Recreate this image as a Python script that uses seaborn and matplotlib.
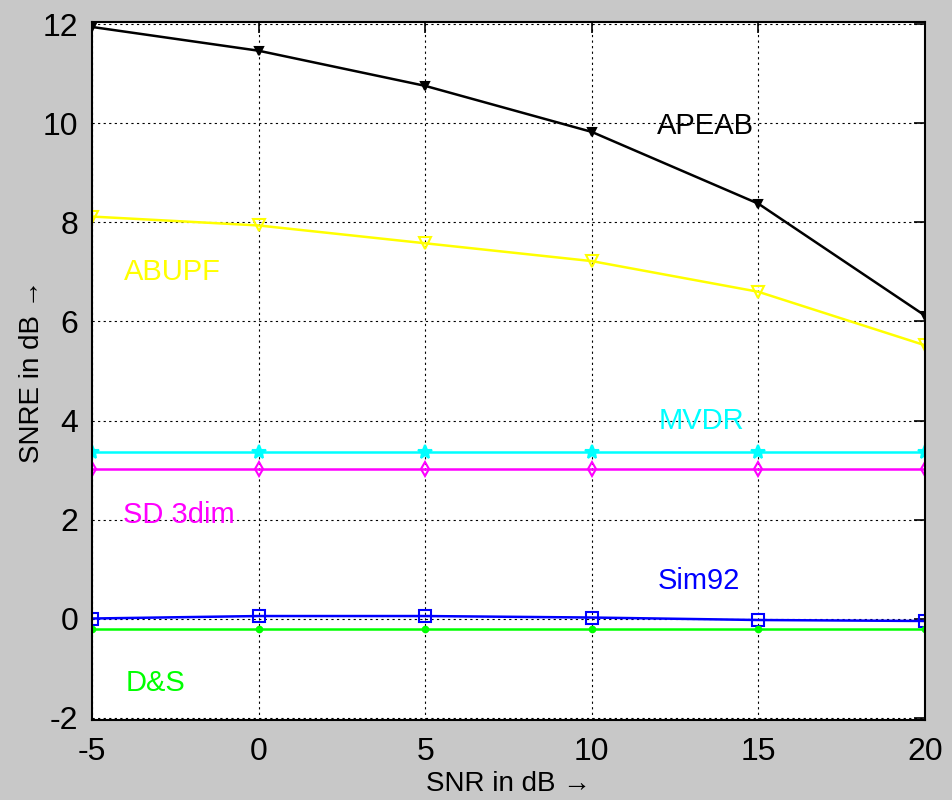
import matplotlib
matplotlib.use("Agg")
import pandas as pd
import seaborn as sns
from matplotlib import pyplot as plt

snr = [-5, 0, 5, 10, 15, 20]

apeab = [11.95, 11.47, 10.76, 9.83, 8.38, 6.12]
abupf = [8.12, 7.94, 7.58, 7.22, 6.60, 5.52]
mvdr = [3.37, 3.37, 3.37, 3.37, 3.37, 3.37]
sd_3dim = [3.02, 3.02, 3.02, 3.02, 3.02, 3.02]
sim92 = [0.0, 0.05, 0.05, 0.02, -0.03, -0.05]
ds = [-0.22, -0.22, -0.22, -0.22, -0.22, -0.22]

methods = ['APEAB', 'ABUPF', 'MVDR', 'SD 3dim', 'Sim92', 'D&S']
colors = ['#000000', '#ffff00', '#00ffff', '#ff00ff', '#0000ff', '#00ff00']
markers = ['v', 'v', '*', 'd', 's', '.']
# where the name of each curve is written (data coords)
label_pos = [(13.4, 9.95), (-2.6, 7.0), (13.3, 4.0), (-2.4, 2.1), (13.2, 0.75), (-3.1, -1.3)]

df = pd.DataFrame({'snr': snr * 6,
                   'snre': apeab + abupf + mvdr + sd_3dim + sim92 + ds,
                   'method': [m for m in methods for _ in snr]})

sns.set_style('white')
plt.rcParams['font.family'] = ['Liberation Sans', 'DejaVu Sans']
plt.rcParams['axes.unicode_minus'] = False

fig = plt.figure(figsize=(9.52, 8.0), dpi=100, facecolor='#c8c8c8')
ax = fig.add_axes([0.0966, 0.1, 0.875, 0.8725])
ax.set_facecolor('white')

sizes = {'APEAB': 6, 'ABUPF': 8, 'MVDR': 10, 'SD 3dim': 7, 'Sim92': 8, 'D&S': 8}
for m, c, mk in zip(methods, colors, markers):
    sub = df[df['method'] == m]
    sns.lineplot(data=sub, x='snr', y='snre', color=c, ax=ax, linewidth=1.8,
                 marker=mk, markersize=sizes[m],
                 markerfacecolor='none' if mk in ('v', 'd', 's') and m != 'APEAB' else c,
                 markeredgecolor=c, markeredgewidth=1.5, legend=False)

for m, c, (x, y) in zip(methods, colors, label_pos):
    ax.text(x, y, m, color=c, fontsize=21, ha='center', va='center')

ax.set_xlim(-5, 20)
ax.set_ylim(-2.05, 12.05)
ax.set_xticks(snr)
ax.set_yticks([-2, 0, 2, 4, 6, 8, 10, 12])
ax.grid(True, color='black', linestyle=(0, (2, 3)), linewidth=0.8)
ax.tick_params(direction='in', length=8, width=1.2, labelsize=23, colors='black',
               top=True, right=True)
ax.tick_params(axis='x', pad=12)
ax.tick_params(axis='y', pad=10)
for s in ax.spines.values():
    s.set_color('black')
    s.set_linewidth(1.5)
ax.set_xlabel('SNR in dB →', fontsize=20, labelpad=3, color='black')
ax.set_ylabel('SNRE in dB →', fontsize=20, labelpad=-2, color='black')

fig.savefig('out.png', dpi=100, facecolor=fig.get_facecolor())
